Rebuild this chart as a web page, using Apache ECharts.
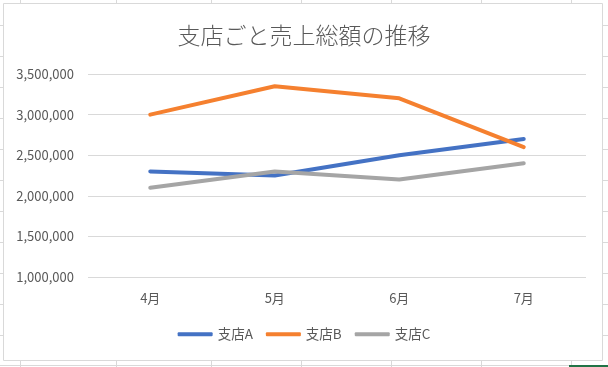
<!DOCTYPE html>
<html><head><meta charset="utf-8">
<script src="https://cdn.jsdelivr.net/npm/echarts@6/dist/echarts.min.js"></script>
<style>html,body{margin:0;padding:0;background:#fff;}#c{width:608px;height:367px;}</style>
</head><body><div id="c"></div>
<script>
const titleText = '支店ごと売上総額の推移';
const categories = ['4月', '5月', '6月', '7月'];
const seriesNames = ['支店A', '支店B', '支店C'];
const branchA = [2300000, 2250000, 2500000, 2700000];
const branchB = [3000000, 3350000, 3200000, 2600000];
const branchC = [2100000, 2300000, 2200000, 2400000];
const yMin = 1000000, yMax = 3500000, yStep = 500000;

const colors = ['#4472C4', '#F5802F', '#A5A5A5'];
const cellRows = [25, 56, 87, 118, 149, 180, 211, 242, 273, 304, 335, 366];
const cellCols = [20, 116, 211, 301, 391, 481, 571];
const cellColor = '#d9d9d9';
const graphics = [];
cellRows.forEach(y => {
  if (y < 361) {
    graphics.push({type:'line', shape:{x1:0,y1:y+0.5,x2:3,y2:y+0.5}, style:{stroke:cellColor,lineWidth:1}, silent:true});
    graphics.push({type:'line', shape:{x1:603,y1:y+0.5,x2:608,y2:y+0.5}, style:{stroke:cellColor,lineWidth:1}, silent:true});
  } else {
    graphics.push({type:'line', shape:{x1:0,y1:y-0.5,x2:608,y2:y-0.5}, style:{stroke:cellColor,lineWidth:1}, silent:true});
  }
});
cellCols.forEach(x => {
  graphics.push({type:'line', shape:{x1:x+0.5,y1:0,x2:x+0.5,y2:3}, style:{stroke:cellColor,lineWidth:1}, silent:true});
  graphics.push({type:'line', shape:{x1:x+0.5,y1:361,x2:x+0.5,y2:367}, style:{stroke:cellColor,lineWidth:1}, silent:true});
});
graphics.push({type:'rect', shape:{x:3.5,y:3.5,width:599,height:357}, style:{fill:'none',stroke:cellColor,lineWidth:1}, silent:true});
graphics.push({type:'rect', shape:{x:569,y:365,width:39,height:2}, style:{fill:'#217346'}, silent:true});

const font = '"Noto Sans CJK JP", "Noto Sans", sans-serif';
const chart = echarts.init(document.getElementById('c'), null, {renderer:'canvas'});
const dataSeries = [branchA, branchB, branchC];
chart.setOption({
  animation: false,
  color: colors,
  graphic: graphics,
  title: {
    text: titleText, left: 'center', top: 19,
    textStyle: {fontFamily: font, fontSize: 23, fontWeight: 300, color: '#595959'}
  },
  legend: {
    data: seriesNames, bottom: 21, left: 'center',
    icon: 'roundRect', itemWidth: 35, itemHeight: 4, itemGap: 13,
    textStyle: {fontFamily: font, fontSize: 13.5, color: '#595959'}
  },
  grid: {left: 88, right: 22, top: 74, bottom: 90, containLabel: false},
  xAxis: {
    type: 'category', data: categories, boundaryGap: true,
    axisLine: {show: false}, axisTick: {show: false},
    axisLabel: {margin: 15, fontFamily: font, fontSize: 13, color: '#595959'}
  },
  yAxis: {
    type: 'value', min: yMin, max: yMax, interval: yStep,
    axisLine: {show: false}, axisTick: {show: false},
    splitLine: {lineStyle: {color: '#d9d9d9', width: 1}},
    axisLabel: {margin: 14, fontFamily: font, fontSize: 13, color: '#595959',
      formatter: v => v.toLocaleString('en-US')}
  },
  series: seriesNames.map((n, i) => ({
    name: n, type: 'line', data: dataSeries[i], symbol: 'none',
    lineStyle: {width: 4, cap: 'round', join: 'round'}
  }))
});
</script></body></html>
